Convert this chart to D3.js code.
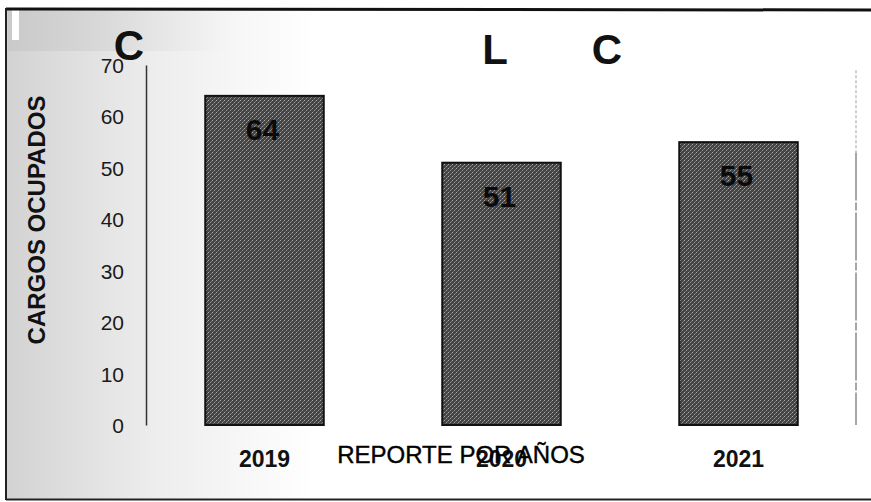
<!DOCTYPE html>
<html><head><meta charset="utf-8">
<script src="https://cdn.jsdelivr.net/npm/d3@7/dist/d3.min.js"></script>
<style>html,body{margin:0;padding:0;background:#fff}svg{display:block}</style>
</head><body><svg id="c" width="871" height="502"></svg>
<script>
const categories = ["2019", "2020", "2021"];
const values = [64, 51, 55];
const yTicks = [0, 10, 20, 30, 40, 50, 60, 70];
const titleParts = ["C", "L", "C"];
const yTitle = "CARGOS OCUPADOS";
const xTitle = "REPORTE POR AÑOS";

const svg = d3.select("#c");
const defs = svg.append("defs");
const grad = defs.append("linearGradient").attr("id", "bg").attr("x1", "0").attr("x2", "1").attr("y1", "0").attr("y2", "0");
grad.append("stop").attr("offset", "0").attr("stop-color", "#d2d2d2");
grad.append("stop").attr("offset", "0.06").attr("stop-color", "#dcdcdc");
grad.append("stop").attr("offset", "0.17").attr("stop-color", "#ededed");
grad.append("stop").attr("offset", "0.36").attr("stop-color", "#ffffff");
grad.append("stop").attr("offset", "1").attr("stop-color", "#ffffff");

const tl = defs.append("linearGradient").attr("id", "tl").attr("x1", "0").attr("x2", "1").attr("y1", "0").attr("y2", "0");
tl.append("stop").attr("offset", "0").attr("stop-color", "#c4c4c4").attr("stop-opacity", 0.6);
tl.append("stop").attr("offset", "1").attr("stop-color", "#c4c4c4").attr("stop-opacity", 0);

const pat = defs.append("pattern").attr("id", "halftone").attr("width", 4).attr("height", 4).attr("patternUnits", "userSpaceOnUse");
pat.append("rect").attr("width", 4).attr("height", 4).attr("fill", "#444");
pat.append("rect").attr("x", 0).attr("y", 0).attr("width", 1).attr("height", 1).attr("fill", "#aaa");
pat.append("rect").attr("x", 2).attr("y", 2).attr("width", 1).attr("height", 1).attr("fill", "#999");
pat.append("rect").attr("x", 1).attr("y", 3).attr("width", 1).attr("height", 1).attr("fill", "#6a6a6a");
pat.append("rect").attr("x", 3).attr("y", 1).attr("width", 1).attr("height", 1).attr("fill", "#7a7a7a");

// background & frame
svg.append("rect").attr("x", 6).attr("y", 8).attr("width", 865).attr("height", 492).attr("fill", "url(#bg)");
svg.append("rect").attr("x", 8).attr("y", 11).attr("width", 220).attr("height", 40).attr("fill", "url(#tl)");
svg.append("rect").attr("x", 12).attr("y", 10).attr("width", 7).attr("height", 30).attr("fill", "#fff");
svg.append("line").attr("x1", 6).attr("x2", 871).attr("y1", 9).attr("y2", 10).attr("stroke", "#111").attr("stroke-width", 3);
svg.append("line").attr("x1", 6).attr("x2", 6).attr("y1", 8).attr("y2", 500).attr("stroke", "#222").attr("stroke-width", 2);
svg.append("line").attr("x1", 6).attr("x2", 871).attr("y1", 499.5).attr("y2", 499.5).attr("stroke", "#222").attr("stroke-width", 2);

const x = d3.scaleBand().domain(categories).range([146, 857]).paddingInner(0.5).paddingOuter(0.25);
const y = d3.scaleLinear().domain([0, 70]).range([425, 65]);

// right dashed boundary
svg.append("line").attr("x1", 856).attr("x2", 856).attr("y1", y(69)).attr("y2", y(53))
  .attr("stroke", "#b0b0b0").attr("stroke-width", 1.2).attr("stroke-dasharray", "3,2");
svg.append("line").attr("x1", 856).attr("x2", 856).attr("y1", y(53)).attr("y2", y(0))
  .attr("stroke", "#8a8a8a").attr("stroke-width", 1.5).attr("stroke-dasharray", "48,2,8,2");

// y axis
const yAxis = d3.axisLeft(y).tickValues(yTicks).tickSize(0).tickPadding(22);
const ga = svg.append("g").attr("transform", "translate(146,0)").call(yAxis);
ga.select(".domain").attr("stroke", "#333").attr("stroke-width", 1.5);
ga.selectAll("text").attr("font-family", "Liberation Sans, Arial, sans-serif").attr("font-size", 21).attr("fill", "#1a1a1a").attr("dy", "0.36em");

// bars
svg.selectAll("rect.bar").data(values).enter().append("rect").attr("class", "bar")
  .attr("x", (d, i) => x(categories[i]))
  .attr("y", d => y(d))
  .attr("width", x.bandwidth())
  .attr("height", d => y(0) - y(d))
  .attr("fill", "url(#halftone)")
  .attr("stroke", "#111").attr("stroke-width", 2);

// value labels
svg.selectAll("text.val").data(values).enter().append("text").attr("class", "val")
  .attr("x", (d, i) => x(categories[i]) + x.bandwidth() / 2 - 2)
  .attr("y", d => y(d) + 44)
  .attr("text-anchor", "middle")
  .attr("font-family", "Liberation Sans, Arial, sans-serif").attr("font-weight", "bold").attr("font-size", 30)
  .attr("fill", "#0a0a0a").text(d => d);

// category labels
const xAxis = d3.axisBottom(x).tickSize(0).tickPadding(0);
const gx = svg.append("g").attr("transform", "translate(0,426)").call(xAxis);
gx.select(".domain").remove();
gx.selectAll("text").attr("font-family", "Liberation Sans, Arial, sans-serif").attr("font-weight", "bold").attr("font-size", 23)
  .attr("fill", "#111").attr("dy", "1.78em");

// x title
svg.append("text").attr("x", 461).attr("y", 463).attr("text-anchor", "middle")
  .attr("font-family", "Liberation Sans, Arial, sans-serif").attr("font-size", 24).attr("fill", "#000")
  .attr("stroke", "#000").attr("stroke-width", 0.4).text(xTitle);

// y title
svg.append("text").attr("transform", "translate(45,220) rotate(-90)").attr("text-anchor", "middle")
  .attr("font-family", "Liberation Sans, Arial, sans-serif").attr("font-weight", "bold").attr("font-size", 24).attr("fill", "#111").text(yTitle);

// title fragments
const titleX = [129, 495, 607];
svg.selectAll("text.tp").data(titleParts).enter().append("text").attr("class", "tp")
  .attr("x", (d, i) => titleX[i]).attr("y", (d, i) => i === 0 ? 60 : 64)
  .attr("text-anchor", "middle")
  .attr("font-family", "Liberation Sans, Arial, sans-serif").attr("font-weight", "bold").attr("font-size", 42)
  .attr("fill", "#111").text(d => d);
</script></body></html>
